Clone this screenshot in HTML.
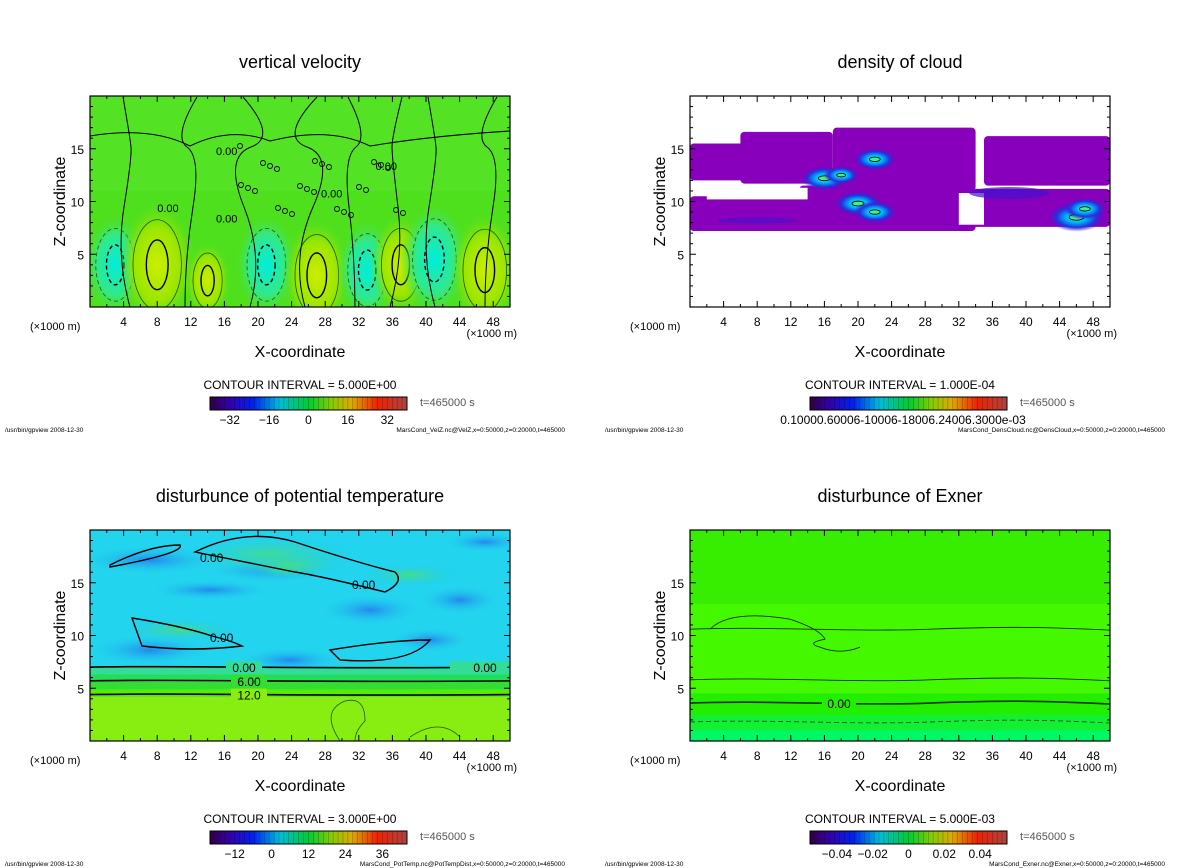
<!DOCTYPE html>
<html><head><meta charset="utf-8">
<style>
html,body{margin:0;padding:0;background:#fff;}
svg{display:block;font-family:"Liberation Sans","DejaVu Sans",sans-serif;}
</style></head>
<body>
<svg id="fig" width="1200" height="868" viewBox="0 0 1200 868" xmlns="http://www.w3.org/2000/svg">
<defs>
 <radialGradient id="gUp"><stop offset="0" stop-color="#ccee00"/><stop offset="0.6" stop-color="#99e600"/><stop offset="1" stop-color="#55dd22" stop-opacity="0"/></radialGradient>
 <radialGradient id="gDn"><stop offset="0" stop-color="#00eedd"/><stop offset="0.6" stop-color="#33e888"/><stop offset="1" stop-color="#55dd22" stop-opacity="0"/></radialGradient>
 <radialGradient id="gCl"><stop offset="0" stop-color="#00ee99"/><stop offset="0.35" stop-color="#00bbff"/><stop offset="0.7" stop-color="#2233dd"/><stop offset="1" stop-color="#5511cc" stop-opacity="0"/></radialGradient>
 <radialGradient id="gBlue"><stop offset="0" stop-color="#2288ee"/><stop offset="1" stop-color="#22ccee" stop-opacity="0"/></radialGradient>
 <radialGradient id="gGrn"><stop offset="0" stop-color="#44dd88"/><stop offset="1" stop-color="#22ccee" stop-opacity="0"/></radialGradient>
 <linearGradient id="gBar" x1="0" x2="1" y1="0" y2="0">
  <stop offset="0" stop-color="#330044"/><stop offset="0.1" stop-color="#3300aa"/><stop offset="0.22" stop-color="#0022ee"/>
  <stop offset="0.35" stop-color="#00bbdd"/><stop offset="0.5" stop-color="#00cc33"/><stop offset="0.62" stop-color="#88cc00"/>
  <stop offset="0.72" stop-color="#ddaa00"/><stop offset="0.85" stop-color="#ee2200"/><stop offset="1" stop-color="#aa4444"/>
 </linearGradient>
</defs>
</svg>
<script>
// ---- data ----
const xTicks=[4,8,12,16,20,24,28,32,36,40,44,48];
const zTicks=[5,10,15];
// vertical velocity cells: x(km), z(km), w(m/s)
const velX=[3,8,14,21,27,33,37,41,47];
const velZ=[4,4,2.5,4,3,3.5,4,4.5,3.5];
const velW=[-12,16,8,-12,14,-12,12,-14,14];
// cloud layers: x0,x1,z0,z1 (km)
const cloudX0=[0,6,17,35,0,0,13,28];
const cloudX1=[11,17,34,50,15,34,29,50];
const cloudZ0=[12,11.7,11,11.5,7.2,7.2,7.2,7.6];
const cloudZ1=[15.5,16.6,17,16.2,10.5,9.3,11.5,11.2];
// cloud dense cores: x,z,size(km)
const coreX=[16,18,22,20,22,46,47];
const coreZ=[12.2,12.5,14,9.8,9,8.5,9.3];
const coreR=[2,1.5,1.8,2,1.8,2.4,1.8];
// potential temperature layers: bottom z, top z
const ptLayerZ0=[0,4.2,4.9,5.7,6.3];
const ptLayerZ1=[4.2,4.9,5.7,6.3,7];
const ptLayerCol=["#88ee11","#55ee00","#33dd33","#22dd55","#33dd99"];
const ptLineZ=[7,5.7,4.4];
const ptLineLab=["0.00","6.00","12.0"];
// exner contour lines
const exLineZ=[10.6,5.8,3.6,1.8];
const exLineStyle=["thin","thin","thick","dash"];

const NS="http://www.w3.org/2000/svg";
const svg=document.getElementById('fig');
function el(t,a,p){const e=document.createElementNS(NS,t);for(const k in a)e.setAttribute(k,a[k]);(p||svg).appendChild(e);return e;}
function txt(s,x,y,size,anchor,p){const e=el('text',{x:x,y:y,'font-size':size,'text-anchor':anchor||'start',fill:'#000'},p);e.textContent=s;return e;}

const panels=[
 {x:90,y:96,title:"vertical velocity",ci:"CONTOUR INTERVAL = 5.000E+00",bar:[-32,-16,0,16,32],barRange:[-40,40],file:"MarsCond_VelZ.nc@VelZ,x=0:50000,z=0:20000,t=465000",name:"velocity"},
 {x:690,y:96,title:"density of cloud",ci:"CONTOUR INTERVAL = 1.000E-04",bar:null,file:"MarsCond_DensCloud.nc@DensCloud,x=0:50000,z=0:20000,t=465000",name:"cloud"},
 {x:90,y:530,title:"disturbunce of potential temperature",ci:"CONTOUR INTERVAL = 3.000E+00",bar:[-12,0,12,24,36],barRange:[-20,44],file:"MarsCond_PotTemp.nc@PotTempDist,x=0:50000,z=0:20000,t=465000",name:"pottemp"},
 {x:690,y:530,title:"disturbunce of Exner",ci:"CONTOUR INTERVAL = 5.000E-03",bar:[-0.04,-0.02,0,0.02,0.04],barRange:[-0.055,0.055],barLab:["−0.04","−0.02","0","0.02","0.04"],file:"MarsCond_Exner.nc@Exner,x=0:50000,z=0:20000,t=465000",name:"exner"}
];
const W=420,H=211;

panels.forEach((P,pi)=>{
 const g=el('g',{});
 
 
 const sx=v=>P.x+v/50*W, sz=v=>P.y+H-v/20*H;
 const clipId='clip'+pi;
 const cp=el('clipPath',{id:clipId},g); el('rect',{x:P.x,y:P.y,width:W,height:H},cp);
 const plot=el('g',{'clip-path':'url(#'+clipId+')'},g);
 
 

 if(pi===0){
  el('rect',{x:P.x,y:P.y,width:W,height:H,fill:'#4ee01c'},plot);
  el('rect',{x:P.x,y:P.y,width:W,height:H*0.45,fill:'#55e428',opacity:0.7},plot);
  velX.forEach((v,i)=>{
   const cx=sx(v),cy=sz(velZ[i]),rx=Math.abs(velW[i])*1.2+5,ry=Math.abs(velW[i])*2.2+10;
   const e=el('ellipse',{cx:cx,cy:cy,rx:rx*1.6,ry:ry*1.4,fill:velW[i]>0?'url(#gUp)':'url(#gDn)'},plot);
   
   
   const dash=velW[i]<0?'4,3':'none';
   el('ellipse',{cx:cx,cy:cy,rx:rx,ry:ry,fill:'none',stroke:'#225500','stroke-width':0.8,'stroke-dasharray':dash},plot);
   el('ellipse',{cx:cx,cy:cy,rx:rx*0.45,ry:ry*0.55,fill:'none',stroke:'#000','stroke-width':1.4,'stroke-dasharray':dash},plot);
  });
  [40,95,160,215,265,300,345,395].forEach((px,i)=>{
   el('path',{d:`M${P.x+px} ${P.y+H} q ${(i%3-1)*14} -50 ${(i%2?8:-6)} -100 t ${(i%2?-6:7)} -60 t ${(i%2?10:-8)} -50`,fill:'none',stroke:'#000','stroke-width':1},plot);
  });
  el('path',{d:`M${P.x} ${P.y+40} q 60 -10 100 10 q 40 -20 80 -5 q 60 -15 100 5 q 60 -10 140 -15`,fill:'none',stroke:'#000','stroke-width':1},plot);
  for(let i=0;i<26;i++){el('circle',{cx:P.x+150+((i*37)%170),cy:P.y+50+((i*23)%70),r:2.5,fill:'none',stroke:'#000','stroke-width':0.9},plot);}
  [[0.3,0.6],[0.16,0.55],[0.3,0.28],[0.68,0.35],[0.55,0.48]].forEach(a=>txt("0.00",P.x+a[0]*W,P.y+a[1]*H,11,'start',plot));
 }
 if(pi===1){
  el('rect',{x:P.x,y:P.y,width:W,height:H,fill:'#fff'},plot);
  cloudX0.forEach((v,i)=>{
   const r=el('rect',{x:sx(v),y:sz(cloudZ1[i]),width:sx(cloudX1[i])-sx(v),height:sz(cloudZ0[i])-sz(cloudZ1[i]),fill:'#8800bb',rx:4},plot);
   
   
  });
  el('rect',{x:sx(2),y:sz(11.3),width:sx(14)-sx(2),height:sz(10.2)-sz(11.3),fill:'#fff'},plot);
  el('rect',{x:sx(32),y:sz(10.8),width:sx(35)-sx(32),height:sz(7.8)-sz(10.8),fill:'#fff'},plot);
  el('rect',{x:sx(38),y:sz(15.4),width:sx(50)-sx(38),height:sz(14.6)-sz(15.4),fill:'#8800bb'},plot);
  el('ellipse',{cx:sx(38),cy:sz(10.8),rx:40,ry:6,fill:'#4411cc',opacity:0.7},plot);
  el('ellipse',{cx:sx(8),cy:sz(8.2),rx:40,ry:3,fill:'#4411cc',opacity:0.6},plot);
  coreX.forEach((v,i)=>{
   const e=el('ellipse',{cx:sx(v),cy:sz(coreZ[i]),rx:coreR[i]*8.4*1.4,ry:coreR[i]*6,fill:'url(#gCl)'},plot);
   
   
   el('ellipse',{cx:sx(v),cy:sz(coreZ[i]),rx:coreR[i]*3,ry:coreR[i]*1.2,fill:'#44ee88',stroke:'#000','stroke-width':0.8},plot);
  });
 }
 if(pi===2){
  el('rect',{x:P.x,y:P.y,width:W,height:H,fill:'#22d4ee'},plot);
  [[60,30,70,14],[180,40,60,12],[395,12,40,10],[60,120,60,15],[200,130,50,12],[280,80,50,15],[370,70,40,14],[300,160,60,10],[150,170,60,8],[120,60,60,10],[340,110,40,12]].forEach(a=>el('ellipse',{cx:P.x+a[0],cy:P.y+a[1],rx:a[2],ry:a[3],fill:'url(#gBlue)'},plot));
  [[180,25,90,20],[195,40,30,8],[200,35,60,14],[90,100,60,12],[320,45,50,12],[290,140,80,10]].forEach(a=>el('ellipse',{cx:P.x+a[0],cy:P.y+a[1],rx:a[2],ry:a[3],fill:'url(#gGrn)'},plot));
  ptLayerZ0.forEach((z0,i)=>{
   const r=el('rect',{x:P.x,y:sz(ptLayerZ1[i]),width:W,height:sz(z0)-sz(ptLayerZ1[i]),fill:ptLayerCol[i]},plot);
   
   
  });
  ptLineZ.forEach((z,i)=>{
   const y=sz(z);
   el('path',{d:`M${P.x} ${y} C ${P.x+100} ${y-2} ${P.x+200} ${y+2} ${P.x+W} ${y}`,fill:'none',stroke:'#000','stroke-width':1.6},plot);
   const lx=P.x+(i===0?138:143);
   el('rect',{x:lx-2,y:y-6,width:36,height:12,fill:ptLayerCol[Math.min(4,4-i*2)]},plot);
   txt(ptLineLab[i],lx+16,y+5,12,'middle',plot);
  });
  el('rect',{x:P.x+360,y:sz(7)-6,width:60,height:12,fill:'#33dd99'},plot);
  txt("0.00",P.x+395,sz(7)+5,12,'middle',plot);
  el('path',{d:`M${P.x+20} ${P.y+35} q 40 -20 70 -20 q 5 8 -70 22 z`,fill:'none',stroke:'#000','stroke-width':1.4},plot);
  el('path',{d:`M${P.x+105} ${P.y+22} q 50 -25 100 -10 q 60 20 100 30 q 10 10 -10 20 q -60 -15 -90 -20 q -40 -8 -100 -20z`,fill:'none',stroke:'#000','stroke-width':1.4},plot);
  el('path',{d:`M${P.x+42} ${P.y+88} q 50 8 80 18 q 20 5 30 10 q -50 6 -100 0 z`,fill:'none',stroke:'#000','stroke-width':1.4},plot);
  el('path',{d:`M${P.x+240} ${P.y+120} q 60 -10 100 -10 q -20 25 -90 20 z`,fill:'none',stroke:'#000','stroke-width':1.4},plot);
  txt("0.00",P.x+110,P.y+32,12,'start',plot);
  txt("0.00",P.x+262,P.y+59,12,'start',plot);
  txt("0.00",P.x+120,P.y+112,12,'start',plot);
  el('path',{d:`M${P.x+250} ${P.y+H} q -20 -30 5 -40 q 20 -5 20 20 q -10 10 -10 20`,fill:'none',stroke:'#225500','stroke-width':0.8},plot);
  el('path',{d:`M${P.x+320} ${P.y+H-4} q 30 -20 50 0`,fill:'none',stroke:'#225500','stroke-width':0.8},plot);
 }
 if(pi===3){
  el('rect',{x:P.x,y:P.y,width:W,height:H,fill:'#44f800'},plot);
  el('rect',{x:P.x,y:P.y,width:W,height:sz(13)-P.y,fill:'#38ee00'},plot);
  el('rect',{x:P.x,y:sz(4.5),width:W,height:sz(2.5)-sz(4.5),fill:'#22ee00'},plot);
  el('rect',{x:P.x,y:sz(2.5),width:W,height:sz(1)-sz(2.5),fill:'#11f033'},plot);
  el('rect',{x:P.x,y:sz(1),width:W,height:sz(0)-sz(1),fill:'#00f866'},plot);
  exLineZ.forEach((z,i)=>{
   const y=sz(z),st=exLineStyle[i];
   const p=el('path',{d:`M${P.x} ${y} C ${P.x+80} ${y-3} ${P.x+160} ${y+3} ${P.x+240} ${y} S ${P.x+360} ${y-2} ${P.x+W} ${y+1}`,fill:'none',stroke:st==='dash'?'#225522':'#113300','stroke-width':st==='thick'?1.6:0.9,'stroke-dasharray':st==='dash'?'5,3':'none'},plot);
   
   
   if(st==='thick'){el('rect',{x:P.x+132,y:y-6,width:34,height:12,fill:'#22ee00'},plot);txt("0.00",P.x+149,y+5,12,'middle',plot);}
  });
  el('path',{d:`M${P.x+20} ${sz(10.6)} q 20 -20 80 -10 q 30 10 35 20 q -20 4 -5 8 q 20 8 40 0`,fill:'none',stroke:'#113300','stroke-width':0.9},plot);
 }
 // frame
 el('rect',{x:P.x,y:P.y,width:W,height:H,fill:'none',stroke:'#000','stroke-width':1.2},g);
 // ticks
 for(let v=2;v<50;v+=2){const X=sx(v),L=v%4===0?6:3;el('line',{x1:X,x2:X,y1:P.y,y2:P.y+L,stroke:'#000'},g);el('line',{x1:X,x2:X,y1:P.y+H,y2:P.y+H-L,stroke:'#000'},g);}
 for(let v=1;v<20;v+=1){const Y=sz(v),L=v%5===0?6:3;el('line',{x1:P.x,x2:P.x+L,y1:Y,y2:Y,stroke:'#000'},g);el('line',{x1:P.x+W,x2:P.x+W-L,y1:Y,y2:Y,stroke:'#000'},g);}
 xTicks.forEach(v=>{const t=txt(String(v),sx(v),P.y+H+19,12,'middle',g);});
 zTicks.forEach(v=>{const t=txt(String(v),P.x-6,sz(v)+5,12,'end',g);});
 txt("(×1000 m)",P.x-60,P.y+H+23,11,'start',g);
 txt("(×1000 m)",P.x+W+7,P.y+H+30,11,'end',g);
 const xt=txt("X-coordinate",P.x+W/2,P.y+H+50,16,'middle',g);
 const zt=txt("Z-coordinate",0,0,16,'middle',g);zt.setAttribute('transform',`translate(${P.x-25},${P.y+H/2}) rotate(-90)`);
 const tt=txt(P.title,P.x+W/2,P.y-28,18,'middle',g);
 const ci=txt(P.ci,P.x+W/2,P.y+H+82,12,'middle',g);
 // colorbar
 const bx=P.x+120,by=P.y+H+90,bw=197,bh=13;
 const cb=el('rect',{x:bx,y:by,width:bw,height:bh,fill:'url(#gBar)',stroke:'#000'},g);
 
 for(let i=1;i<40;i++)el('line',{x1:bx+i*bw/40,x2:bx+i*bw/40,y1:by,y2:by+bh,stroke:'#000','stroke-width':0.4,opacity:0.5},g);
 if(P.bar){P.bar.forEach((v,i)=>{const X=bx+(v-P.barRange[0])/(P.barRange[1]-P.barRange[0])*bw;const lab=P.barLab?P.barLab[i]:String(v).replace('-','−');txt(lab,X,by+bh+14,12,'middle',g);});}
 else txt("0.10000.60006-10006-18006.24006.3000e-03",bx+93,by+bh+14,12,'middle',g);
 txt("t=465000 s",P.x+W-90,by+9,11,'start',g).setAttribute('fill','#555');
 txt("/usr/bin/gpview   2008-12-30",P.x-85,P.y+H+125,6.5,'start',g);
 txt(P.file,P.x+W+55,P.y+H+125,6.5,'end',g);
});
</script>
</body></html>
